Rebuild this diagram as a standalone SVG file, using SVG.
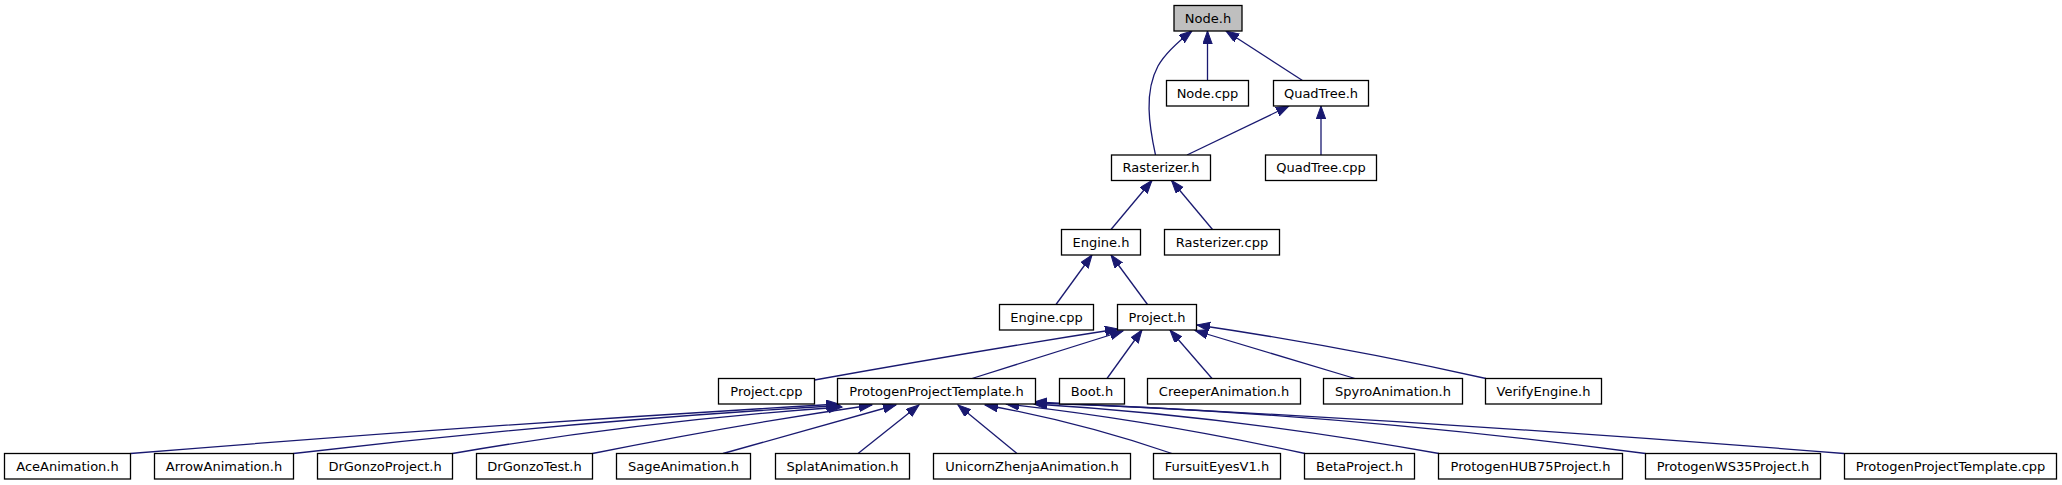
<svg xmlns="http://www.w3.org/2000/svg" width="2062" height="485" viewBox="0 0 2062 485">
<style>
.node rect{fill:#ffffff;stroke:#000000;stroke-width:1.3}
.root rect{fill:#bfbfbf;stroke:#000000;stroke-width:1.3}
.node text{font-family:"DejaVu Sans","Liberation Sans",sans-serif;font-size:13px;text-anchor:middle;fill:#000000}
.edge{fill:none;stroke:#191970;stroke-width:1.3;marker-end:url(#arr)}
</style>
<defs>
<marker id="arr" markerUnits="userSpaceOnUse" markerWidth="16" markerHeight="12" refX="13" refY="4.7" orient="auto">
<path d="M0,0 L13,4.7 L0,9.4 z" fill="#191970" stroke="#191970" stroke-width="1"/>
</marker>
</defs>
<rect width="2062" height="485" fill="#ffffff"/>
<g id="edges">
<path class="edge" d="M1207.5,80.5 V31"/>
<path class="edge" d="M1302.5,80.5 L1226,31"/>
<path class="edge" d="M1155.5,155 C1149,125 1144,92 1158,66 C1166,52 1179,41 1192,31"/>
<path class="edge" d="M1187,155 L1289,106"/>
<path class="edge" d="M1321,155 V106"/>
<path class="edge" d="M1111,229.5 L1152,180.5"/>
<path class="edge" d="M1212.5,229.5 L1171.5,180.5"/>
<path class="edge" d="M1056,304.5 L1092,255"/>
<path class="edge" d="M1147.5,304.5 L1111,255"/>
<path class="edge" d="M814.5,380 Q970,352 1118,329"/>
<path class="edge" d="M972,378.5 L1123,331"/>
<path class="edge" d="M1107,378.5 L1142,330"/>
<path class="edge" d="M1212,378.5 L1170,330"/>
<path class="edge" d="M1355,378.5 L1195,330.5"/>
<path class="edge" d="M1486,378.5 Q1340,346 1197,325"/>
<path class="edge" d="M130.5,453.5 Q480,425 839,404"/>
<path class="edge" d="M293.5,453.5 Q560,422 840,405.5"/>
<path class="edge" d="M452.5,453.5 Q640,421 842,407"/>
<path class="edge" d="M592.5,453.5 Q740,424 872,405"/>
<path class="edge" d="M723,453.5 Q820,426 896,405"/>
<path class="edge" d="M858,453.5 L919,405"/>
<path class="edge" d="M1017,453.5 L958,405"/>
<path class="edge" d="M1172,453.5 Q1080,422 985,405"/>
<path class="edge" d="M1305,453.5 Q1150,420 1006,404"/>
<path class="edge" d="M1439,453.5 Q1230,416 1034,404"/>
<path class="edge" d="M1645.5,453.5 Q1330,412 1034,403"/>
<path class="edge" d="M1844,453.5 Q1440,421 1034,402"/>
</g>
<g id="node-Node_h" class="node root"><rect x="1174" y="5.5" width="68" height="25.5"/><text x="1208" y="22.5">Node.h</text></g>
<g id="node-Node_cpp" class="node"><rect x="1166.5" y="80.5" width="82" height="25.5"/><text x="1207.5" y="97.5">Node.cpp</text></g>
<g id="node-QuadTree_h" class="node"><rect x="1273.5" y="80.5" width="95" height="25.5"/><text x="1321" y="97.5">QuadTree.h</text></g>
<g id="node-Rasterizer_h" class="node"><rect x="1111.5" y="155" width="99" height="25.5"/><text x="1161" y="172">Rasterizer.h</text></g>
<g id="node-QuadTree_cpp" class="node"><rect x="1265.5" y="155" width="111" height="25.5"/><text x="1321" y="172">QuadTree.cpp</text></g>
<g id="node-Engine_h" class="node"><rect x="1061.5" y="229.5" width="79" height="25.5"/><text x="1101" y="246.5">Engine.h</text></g>
<g id="node-Rasterizer_cpp" class="node"><rect x="1164.5" y="229.5" width="115" height="25.5"/><text x="1222" y="246.5">Rasterizer.cpp</text></g>
<g id="node-Engine_cpp" class="node"><rect x="999.5" y="304.5" width="94" height="25.5"/><text x="1046.5" y="321.5">Engine.cpp</text></g>
<g id="node-Project_h" class="node"><rect x="1117.5" y="304.5" width="79" height="25.5"/><text x="1157" y="321.5">Project.h</text></g>
<g id="node-Project_cpp" class="node"><rect x="718.5" y="378.5" width="96" height="25.5"/><text x="766.5" y="395.5">Project.cpp</text></g>
<g id="node-ProtogenProjectTemplate_h" class="node"><rect x="837.5" y="378.5" width="198" height="25.5"/><text x="936.5" y="395.5">ProtogenProjectTemplate.h</text></g>
<g id="node-Boot_h" class="node"><rect x="1059.5" y="378.5" width="65" height="25.5"/><text x="1092" y="395.5">Boot.h</text></g>
<g id="node-CreeperAnimation_h" class="node"><rect x="1147.5" y="378.5" width="153" height="25.5"/><text x="1224" y="395.5">CreeperAnimation.h</text></g>
<g id="node-SpyroAnimation_h" class="node"><rect x="1323.5" y="378.5" width="139" height="25.5"/><text x="1393" y="395.5">SpyroAnimation.h</text></g>
<g id="node-VerifyEngine_h" class="node"><rect x="1485.5" y="378.5" width="116" height="25.5"/><text x="1543.5" y="395.5">VerifyEngine.h</text></g>
<g id="node-AceAnimation_h" class="node"><rect x="4.5" y="453.5" width="126" height="25.5"/><text x="67.5" y="470.5">AceAnimation.h</text></g>
<g id="node-ArrowAnimation_h" class="node"><rect x="154.5" y="453.5" width="139" height="25.5"/><text x="224" y="470.5">ArrowAnimation.h</text></g>
<g id="node-DrGonzoProject_h" class="node"><rect x="317.5" y="453.5" width="135" height="25.5"/><text x="385" y="470.5">DrGonzoProject.h</text></g>
<g id="node-DrGonzoTest_h" class="node"><rect x="476.5" y="453.5" width="116" height="25.5"/><text x="534.5" y="470.5">DrGonzoTest.h</text></g>
<g id="node-SageAnimation_h" class="node"><rect x="616.5" y="453.5" width="134" height="25.5"/><text x="683.5" y="470.5">SageAnimation.h</text></g>
<g id="node-SplatAnimation_h" class="node"><rect x="775.5" y="453.5" width="134" height="25.5"/><text x="842.5" y="470.5">SplatAnimation.h</text></g>
<g id="node-UnicornZhenjaAnimation_h" class="node"><rect x="933.5" y="453.5" width="197" height="25.5"/><text x="1032" y="470.5">UnicornZhenjaAnimation.h</text></g>
<g id="node-FursuitEyesV1_h" class="node"><rect x="1153.5" y="453.5" width="127" height="25.5"/><text x="1217" y="470.5">FursuitEyesV1.h</text></g>
<g id="node-BetaProject_h" class="node"><rect x="1304.5" y="453.5" width="110" height="25.5"/><text x="1359.5" y="470.5">BetaProject.h</text></g>
<g id="node-ProtogenHUB75Project_h" class="node"><rect x="1438.5" y="453.5" width="184" height="25.5"/><text x="1530.5" y="470.5">ProtogenHUB75Project.h</text></g>
<g id="node-ProtogenWS35Project_h" class="node"><rect x="1645.5" y="453.5" width="175" height="25.5"/><text x="1733" y="470.5">ProtogenWS35Project.h</text></g>
<g id="node-ProtogenProjectTemplate_cpp" class="node"><rect x="1844.5" y="453.5" width="212" height="25.5"/><text x="1950.5" y="470.5">ProtogenProjectTemplate.cpp</text></g>
</svg>
